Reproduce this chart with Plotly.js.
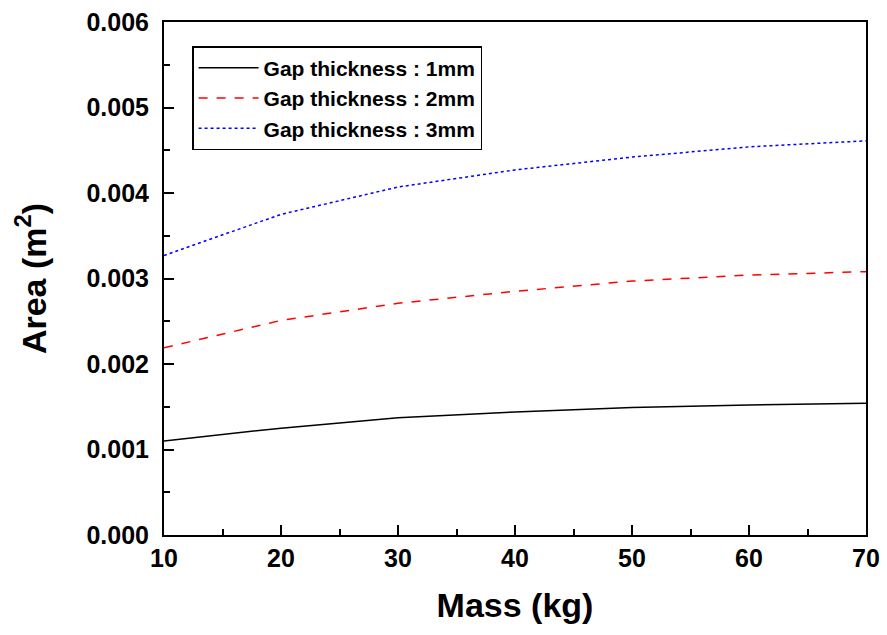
<!DOCTYPE html>
<html>
<head>
<meta charset="utf-8">
<script src="https://cdn.plot.ly/plotly-3.0.1.min.js"></script>
<style>html,body{margin:0;padding:0;background:#fff;}</style>
</head>
<body>
<div id="chart" style="width:887px;height:635px;"></div>
<script>
const mass = [10, 20, 30, 40, 50, 60, 70];
const gap1 = [0.00110, 0.00125, 0.00137, 0.00144, 0.00149, 0.00152, 0.00154];
const gap2 = [0.00219, 0.00251, 0.00271, 0.00285, 0.00297, 0.00304, 0.00308];
const gap3 = [0.00327, 0.00375, 0.00407, 0.00427, 0.00442, 0.00454, 0.00461];
const seriesNames = ['Gap thickness : 1mm', 'Gap thickness : 2mm', 'Gap thickness : 3mm'];

const font = 'Arial, "Liberation Sans", sans-serif';
const traces = [
  {x: mass, y: gap1, name: seriesNames[0], mode: 'lines', line: {color: '#000000', width: 1.5, dash: 'solid'}},
  {x: mass, y: gap2, name: seriesNames[1], mode: 'lines', line: {color: '#ff0000', width: 1.5, dash: 'dash'}},
  {x: mass, y: gap3, name: seriesNames[2], mode: 'lines', line: {color: '#0000ff', width: 1.5, dash: 'dot'}}
];
const axisCommon = {
  showline: true, linecolor: '#000', linewidth: 2, mirror: true,
  ticks: 'inside', tickcolor: '#000', tickwidth: 2, ticklen: 10,
  showgrid: false, zeroline: false,
  tickfont: {family: font, size: 25, color: '#000', weight: 'bold'}
};
const layout = {
  width: 887, height: 635,
  margin: {l: 164, r: 21, t: 22, b: 100},
  paper_bgcolor: '#fff', plot_bgcolor: '#fff',
  showlegend: true,
  legend: {
    x: 0.04, y: 0.953, xanchor: 'left', yanchor: 'top',
    bordercolor: '#000', borderwidth: 1.5, bgcolor: '#fff',
    font: {family: font, size: 21, color: '#000', weight: 'bold'},
    itemwidth: 60,
    tracegroupgap: 0
  },
  xaxis: Object.assign({}, axisCommon, {
    range: [10, 70], dtick: 10, tick0: 10,
    ticklabelstandoff: 0,
    minor: {ticks: 'inside', dtick: 5, ticklen: 6, tickwidth: 2, tickcolor: '#000'},
    title: {text: 'Mass (kg)', font: {family: font, size: 34, color: '#000', weight: 'bold'}, standoff: 22}
  }),
  yaxis: Object.assign({}, axisCommon, {
    range: [0, 0.006], dtick: 0.001, tickformat: '.3f',
    ticklabelstandoff: 8,
    minor: {ticks: 'inside', dtick: 0.0005, ticklen: 6, tickwidth: 2, tickcolor: '#000'},
    title: {text: 'Area (m<sup>2</sup>)', font: {family: font, size: 34, color: '#000', weight: 'bold'}, standoff: 30}
  })
};
Plotly.newPlot('chart', traces, layout, {displayModeBar: false, staticPlot: true});
</script>
</body>
</html>
